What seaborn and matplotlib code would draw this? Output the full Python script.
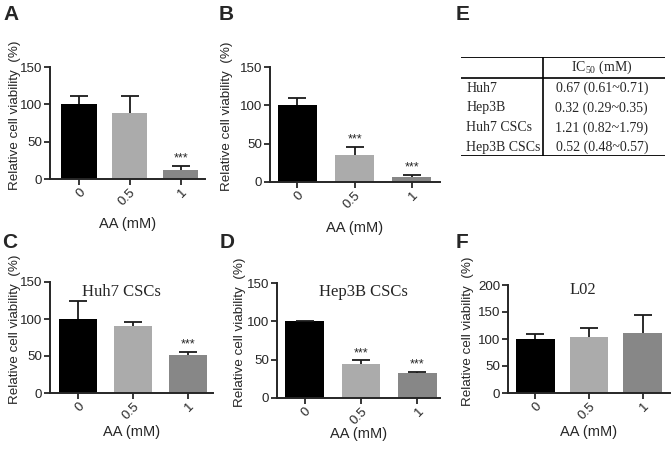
import numpy as np
import matplotlib
matplotlib.use("Agg")
import matplotlib.pyplot as plt
import seaborn as sns

# --- dados ---
doses = ['0', '0.5', '1']
bar_colors = ['#000000', '#ababab', '#878787']

a_mean = [100, 88, 12]
a_err = [11, 23, 5]
a_sig = ['', '', '***']

b_mean = [100, 35, 7]
b_err = [9, 11, 2]
b_sig = ['', '***', '***']

c_mean = [100, 90, 52]
c_err = [25, 6, 3.5]
c_sig = ['', '', '***']

d_mean = [100, 45, 33]
d_err = [1, 4, 1]
d_sig = ['', '***', '***']

f_mean = [100, 103, 111]
f_err = [10, 18, 34]
f_sig = ['', '', '']

cell_lines = ['Huh7', 'Hep3B', 'Huh7 CSCs', 'Hep3B CSCs']
ic50_text = ['0.67 (0.61~0.71)', '0.32 (0.29~0.35)', '1.21 (0.82~1.79)', '0.52 (0.48~0.57)']

sns.set_style('ticks')
plt.rcParams['font.family'] = ['Liberation Sans', 'DejaVu Sans']
serif = ['Liberation Serif', 'DejaVu Serif']

W, H = 671, 453
fig = plt.figure(figsize=(W / 100, H / 100), dpi=100)


def px_rect(x0, y_top, x1, y_bot):
    return [x0 / W, 1 - y_bot / H, (x1 - x0) / W, (y_bot - y_top) / H]


def bar_panel(rect, mean, err, sig, ymax, ystep, xlim, width, title=None,
              title_xy=None, ylab_x=-0.2, xlab_y=-0.3):
    ax = fig.add_axes(rect)
    sns.barplot(x=doses, y=mean, hue=doses, palette=bar_colors, legend=False,
                saturation=1, width=width, order=doses, ax=ax, linewidth=0)
    xs = np.arange(len(doses))
    eb = ax.errorbar(xs, mean, yerr=[np.zeros(len(mean)), err], fmt='none',
                     ecolor='#1a1a1a', elinewidth=1.3, capsize=6.5, capthick=1.3)
    # só a barra superior (estilo GraphPad)
    eb[1][0].set_visible(False)
    for x, m, e, s in zip(xs, mean, err, sig):
        if s:
            ax.annotate(s, xy=(x, m + e), xytext=(0, 1), textcoords='offset points',
                        ha='center', va='bottom', fontsize=9)
    ax.set_ylim(0, ymax)
    ax.set_yticks(np.arange(0, ymax + 1, ystep))
    ax.set_xlim(*xlim)
    ax.set_ylabel('Relative cell viability  (%)', fontsize=9.7)
    ax.set_xlabel('AA (mM)', fontsize=10.5)
    ax.yaxis.set_label_coords(ylab_x, 0.57)
    ax.xaxis.set_label_coords(0.5, xlab_y)
    ax.tick_params(axis='both', labelsize=9.6, width=1.3, length=4, pad=1.5)
    for lab in ax.get_xticklabels():
        lab.set_rotation(45)
        lab.set_ha('right')
        lab.set_rotation_mode('anchor')
    sns.despine(ax=ax)
    for sp in ['left', 'bottom']:
        ax.spines[sp].set_linewidth(1.4)
    if title:
        ax.text(title_xy[0], title_xy[1], title, transform=ax.transAxes,
                ha='center', va='center', fontsize=12, family=serif)
    return ax


bar_panel(px_rect(50, 67, 205, 179), a_mean, a_err, a_sig, 150, 50,
          (-0.57, 2.48), 0.69, ylab_x=-0.19, xlab_y=-0.34)
bar_panel(px_rect(270, 67, 440, 182), b_mean, b_err, b_sig, 150, 50,
          (-0.48, 2.49), 0.68, ylab_x=-0.22, xlab_y=-0.34)
bar_panel(px_rect(50, 282, 213, 393), c_mean, c_err, c_sig, 150, 50,
          (-0.51, 2.45), 0.69, title='Huh7 CSCs', title_xy=(0.44, 0.91),
          ylab_x=-0.18, xlab_y=-0.29)
bar_panel(px_rect(277, 283, 440, 398), d_mean, d_err, d_sig, 150, 50,
          (-0.49, 2.40), 0.69, title='Hep3B CSCs', title_xy=(0.53, 0.92),
          ylab_x=-0.19, xlab_y=-0.25)
bar_panel(px_rect(508, 285, 670, 393), f_mean, f_err, f_sig, 200, 50,
          (-0.51, 2.51), 0.72, title='L02', title_xy=(0.46, 0.95),
          ylab_x=-0.21, xlab_y=-0.3)

# --- tabela E ---
tab = fig.add_axes(px_rect(461, 57, 665, 156))
tab.set_xlim(0, 1)
tab.set_ylim(0, 1)
tab.axis('off')
tab.plot([0, 1], [1, 1], color='black', lw=1.3)
tab.plot([0, 1], [0.79, 0.79], color='black', lw=1.2)
tab.plot([0, 1], [0, 0], color='black', lw=1.3)
tab.plot([0.40, 0.40], [0, 1], color='black', lw=1.2)
tab.text(0.69, 0.895, r'IC$_{\mathregular{50}}$ (mM)', ha='center', va='center',
         fontsize=10, family=serif)
row_y = [0.685, 0.485, 0.285, 0.09]
for name, val, y in zip(cell_lines, ic50_text, row_y):
    tab.text(0.025, y, name, ha='left', va='center', fontsize=10, family=serif)
    tab.text(0.69, y, val, ha='center', va='center', fontsize=10, family=serif)

# --- letras dos painéis ---
letters = [('A', 3, 5), ('B', 219, 5), ('E', 456, 5),
           ('C', 2, 233), ('D', 220, 233), ('F', 456, 233)]
for let, x, y in letters:
    fig.text(x / W, 1 - y / H, let, ha='left', va='top', fontsize=15,
             fontweight='bold')

fig.savefig('out.png', dpi=100)
